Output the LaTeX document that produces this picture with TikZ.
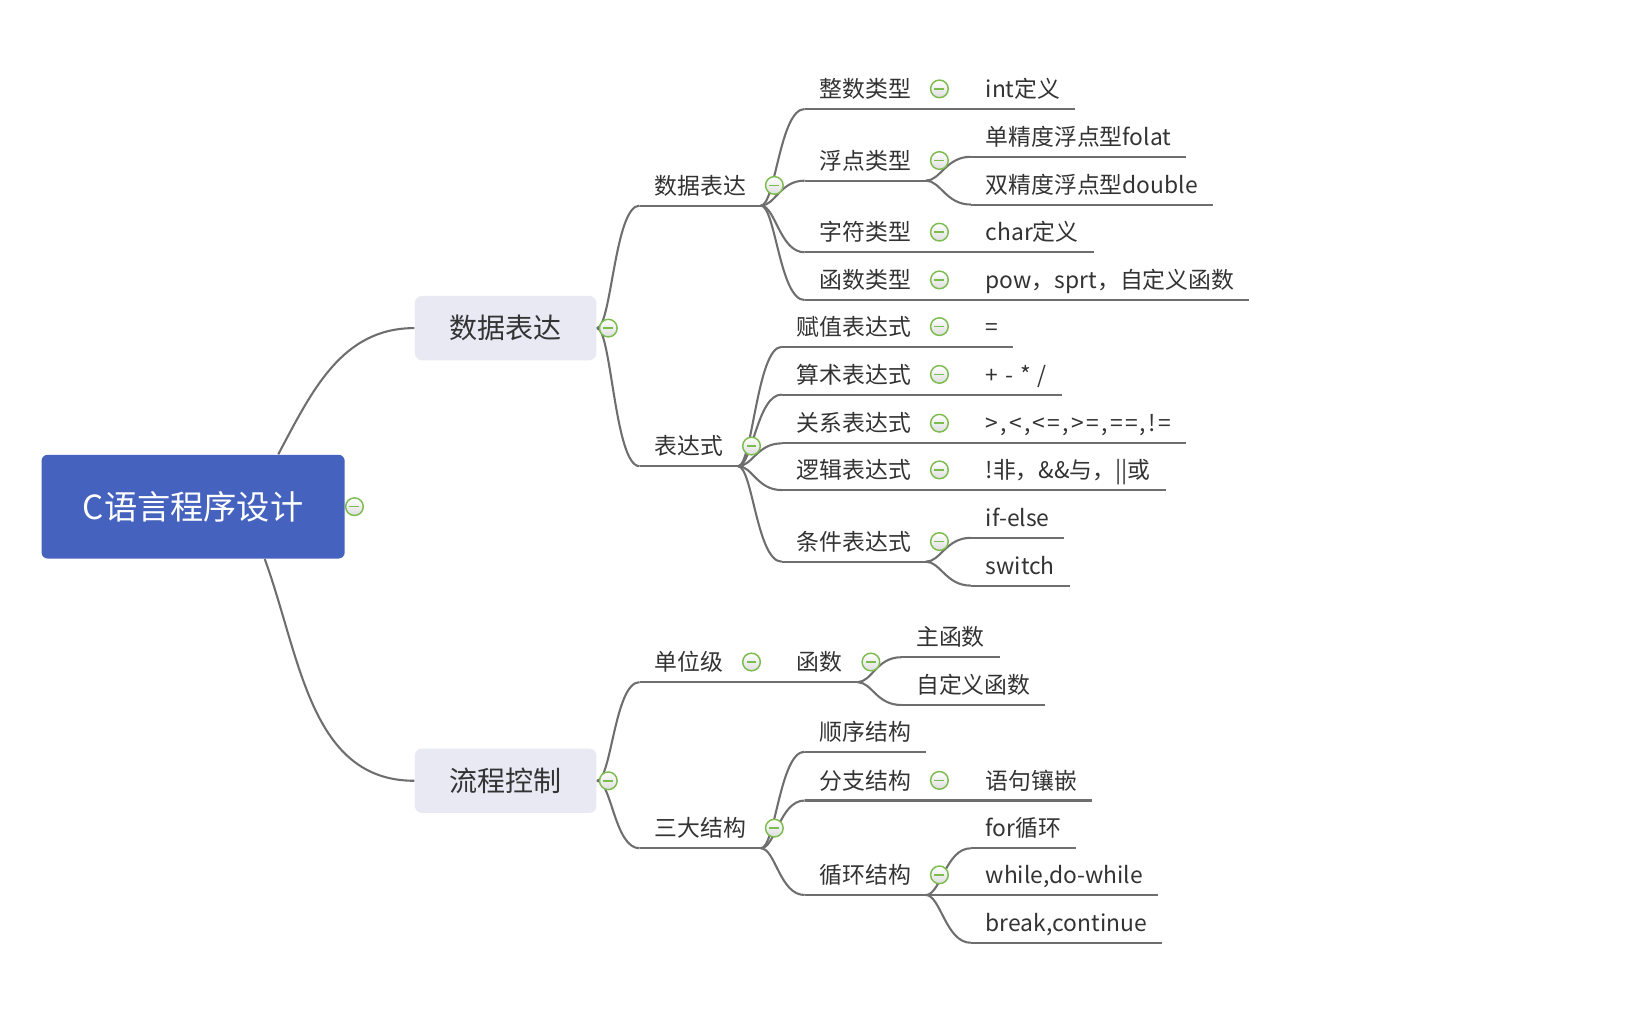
\documentclass[tikz,border=0pt]{standalone}
\usepackage{fontspec}
\setmainfont{Noto Sans CJK SC}
\usepackage{tikz}
\definecolor{rootBlue}{HTML}{4562BE}
\definecolor{boxLavender}{HTML}{E9E9F4}
\definecolor{lineGray}{HTML}{6E6E6E}
\definecolor{textGray}{HTML}{333333}
\definecolor{btnGreen}{HTML}{7CBB4E}

\begin{document}
\begin{tikzpicture}[x=0.5pt, y=-0.5pt,
	line/.style={draw=lineGray, line width=1pt},
	branch/.style={line, to path={.. controls +(14,0) and +(-24,0) .. (\tikztotarget)}},
	rootbox/.style={rectangle, rounded corners=3pt, fill=rootBlue, text=white,
		minimum width=146pt, minimum height=50pt, font=\fontsize{16}{19}\selectfont},
	mainbox/.style={rectangle, rounded corners=3.5pt, fill=boxLavender, text=textGray,
		minimum width=87.5pt, minimum height=31pt, font=\fontsize{13.5}{16}\selectfont},
	topic/.style={anchor=south west, inner xsep=7pt, inner ysep=0pt,
		text height=13.7pt, text depth=5.3pt, text=textGray, font=\fontsize{11}{13}\selectfont},
	btn/.style={circle, draw=btnGreen, line width=0.7pt, minimum size=8.5pt, inner sep=0pt,
		top color=white, bottom color=black!13,
		path picture={\draw[btnGreen, line width=0.7pt]
			([xshift=-2.4pt]path picture bounding box.center) -- ([xshift=2.4pt]path picture bounding box.center);}}]
	\useasboundingbox (0,0) rectangle (1568,986);

	% main topics
	\node[rootbox] (root) at (186,488) {C语言程序设计};
	\node[mainbox] (shuju) at (487,316) {数据表达};
	\node[mainbox] (liucheng) at (487,752) {流程控制};

	% second level
	\node[topic] (sjbd) at (616,198) {数据表达};
	\node[topic] (bds) at (616,449) {表达式};
	\node[topic] (dwj) at (616,657) {单位级};
	\node[topic] (sdjg) at (616,817) {三大结构};

	% data types
	\node[topic] (zhengshu) at (775,105) {整数类型};
	\node[topic] (fudian) at (775,174) {浮点类型};
	\node[topic] (zifu) at (775,243) {字符类型};
	\node[topic] (hanshu) at (775,289) {函数类型};
	\node[topic] (intdef) at (935,105) {int定义};
	\node[topic] (folat) at (935,151) {单精度浮点型folat};
	\node[topic] (double) at (935,197) {双精度浮点型double};
	\node[topic] (chardef) at (935,243) {char定义};
	\node[topic] (powfn) at (935,289) {pow，sprt，自定义函数};

	% expressions
	\node[topic] (fuzhi) at (753,334) {赋值表达式};
	\node[topic] (suanshu) at (753,380) {算术表达式};
	\node[topic] (guanxi) at (753,427) {关系表达式};
	\node[topic] (luoji) at (753,472) {逻辑表达式};
	\node[topic] (tiaojian) at (753,541) {条件表达式};
	\node[topic] (assign) at (935,334) {=};
	\node[topic] (arith) at (935,380) {\addfontfeature{LetterSpace=8}+ - * /};
	\node[topic] (relop) at (935,427) {\addfontfeature{LetterSpace=10}>,<,<=,>=,==,!=};
	\node[topic] (logic) at (935,472) {!非，\&\&与，||或};
	\node[topic] (ifelse) at (935,518) {if-else};
	\node[topic] (switch) at (935,564) {switch};

	% flow control
	\node[topic] (hsj) at (753,657) {函数};
	\node[topic] (zhuhs) at (868,633) {主函数};
	\node[topic] (zdyhs) at (868,679) {自定义函数};
	\node[topic] (shunxu) at (775,724) {顺序结构};
	\node[topic] (fenzhi) at (775,771) {分支结构};
	\node[topic] (xunhuan) at (775,862) {循环结构};
	\node[topic] (qiantao) at (935,771) {语句镶嵌};
	\node[topic] (forloop) at (935,817) {for循环};
	\node[topic] (whileloop) at (935,862) {while,do-while};
	\node[topic] (breakcont) at (935,908) {break,continue};

	% underlines
	\foreach \n in {sjbd,bds,dwj,sdjg,zhengshu,fudian,zifu,hanshu,intdef,folat,double,chardef,powfn,
		fuzhi,suanshu,guanxi,luoji,tiaojian,assign,arith,relop,logic,ifelse,switch,
		hsj,zhuhs,zdyhs,shunxu,fenzhi,xunhuan,qiantao,forloop,whileloop,breakcont}
		\draw[line] (\n.south west) -- (\n.south east);

	% connectors
	\draw[line] ([xshift=41pt]root.north) to[out=62, in=180] (shuju.west);
	\draw[line] ([xshift=34.5pt]root.south) to[out=-70, in=180] (liucheng.west);
	\draw[branch] (shuju.east) to (sjbd.south west);
	\draw[branch] (shuju.east) to (bds.south west);
	\draw[branch] (liucheng.east) to (dwj.south west);
	\draw[branch] (liucheng.east) to (sdjg.south west);
	\foreach \c in {zhengshu,fudian,zifu,hanshu}
		\draw[branch] (sjbd.south east) to (\c.south west);
	\foreach \c in {fuzhi,suanshu,guanxi,luoji,tiaojian}
		\draw[branch] (bds.south east) to (\c.south west);
	\foreach \c in {shunxu,fenzhi,xunhuan}
		\draw[branch] (sdjg.south east) to (\c.south west);
	\draw[branch] (fudian.south east) to (folat.south west);
	\draw[branch] (fudian.south east) to (double.south west);
	\draw[branch] (tiaojian.south east) to (ifelse.south west);
	\draw[branch] (tiaojian.south east) to (switch.south west);
	\draw[branch] (hsj.south east) to (zhuhs.south west);
	\draw[branch] (hsj.south east) to (zdyhs.south west);
	\draw[branch] (xunhuan.south east) to (forloop.south west);
	\draw[branch] (xunhuan.south east) to (whileloop.south west);
	\draw[branch] (xunhuan.south east) to (breakcont.south west);
	\draw[line] (zhengshu.south east) -- (intdef.south west);
	\draw[line] (zifu.south east) -- (chardef.south west);
	\draw[line] (hanshu.south east) -- (powfn.south west);
	\draw[line] (fuzhi.south east) -- (assign.south west);
	\draw[line] (suanshu.south east) -- (arith.south west);
	\draw[line] (guanxi.south east) -- (relop.south west);
	\draw[line] (luoji.south east) -- (logic.south west);
	\draw[line] (dwj.south east) -- (hsj.south west);
	\draw[line] (fenzhi.south east) -- (qiantao.south west);

	% collapse buttons
	\node[btn] (root-btn) at ([xshift=4.5pt]root.east) {};
	\node[btn] (shuju-btn) at ([xshift=5.5pt]shuju.east) {};
	\node[btn] (liucheng-btn) at ([xshift=5.5pt]liucheng.east) {};
	\foreach \n in {sjbd,bds,dwj,sdjg,zhengshu,fudian,zifu,hanshu,
		fuzhi,suanshu,guanxi,luoji,tiaojian,hsj,fenzhi,xunhuan}
		\node[btn] (\n-btn) at ([xshift=6.5pt]\n.east) {};
\end{tikzpicture}
\end{document}
